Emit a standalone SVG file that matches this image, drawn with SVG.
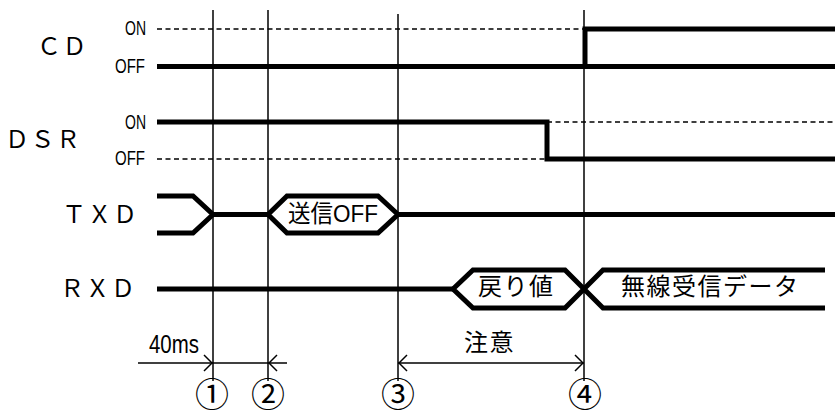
<svg xmlns="http://www.w3.org/2000/svg" width="835" height="410" viewBox="0 0 835 410">
<style>
.thick{fill:none;stroke:#000;stroke-width:5;stroke-linejoin:miter;stroke-linecap:butt}
.thin{fill:none;stroke:#000;stroke-width:1.5}
.dot{fill:none;stroke:#000;stroke-width:1.5;stroke-dasharray:5 3.5}
.lbl{font-family:"Noto Sans CJK JP",sans-serif;font-size:24px;letter-spacing:1.5px;fill:#000}
.lvl{font-family:"Liberation Sans",sans-serif;font-size:20px;fill:#000}
.jp{font-family:"Liberation Sans","Noto Sans CJK JP",sans-serif;font-size:24px;fill:#000}
.num{font-family:"Noto Sans CJK JP",sans-serif;font-size:34px;fill:#000;text-anchor:middle}
</style>
<defs>
<marker id="arr" viewBox="0 0 10 20" refX="10" refY="10" markerWidth="10" markerHeight="20" markerUnits="userSpaceOnUse" orient="auto">
<polyline points="1,2 9,10 1,18" fill="none" stroke="#000" stroke-width="1.5"/>
</marker>
</defs>

<g id="timelines">
<line class="thin" x1="213" y1="10" x2="213" y2="381"/>
<line class="thin" x1="268" y1="10" x2="268" y2="381"/>
<line class="thin" x1="398" y1="14" x2="398" y2="381"/>
<line class="thin" x1="584" y1="10" x2="584" y2="381"/>
</g>

<g id="cd">
<text class="lbl" x="37" y="55">ＣＤ</text>
<text class="lvl" x="125" y="35" textLength="21" lengthAdjust="spacingAndGlyphs">ON</text>
<text class="lvl" x="115" y="72.5" textLength="30" lengthAdjust="spacingAndGlyphs">OFF</text>
<line class="dot" x1="157" y1="29" x2="584" y2="29"/>
<line class="thick" x1="157" y1="66.5" x2="835" y2="66.5"/>
<polyline class="thick" points="585,66.5 585,29 835,29"/>
</g>

<g id="dsr">
<text class="lbl" x="5" y="148">ＤＳＲ</text>
<text class="lvl" x="125" y="128.5" textLength="21" lengthAdjust="spacingAndGlyphs">ON</text>
<text class="lvl" x="115" y="164.5" textLength="30" lengthAdjust="spacingAndGlyphs">OFF</text>
<polyline class="thick" points="157,122 547,122 547,159 835,159"/>
<line class="dot" x1="157" y1="159" x2="547" y2="159"/>
<line class="dot" x1="547" y1="122" x2="835" y2="122"/>
</g>

<g id="txd">
<text class="lbl" x="62" y="223">ＴＸＤ</text>
<polyline class="thick" points="157,196 193,196 213,214.5 193,233 157,233"/>
<line class="thick" x1="213" y1="214.5" x2="268" y2="214.5"/>
<polygon class="thick" points="268,214.5 287,196 378,196 398,214.5 378,233 287,233"/>
<line class="thick" x1="398" y1="214.5" x2="835" y2="214.5"/>
<text class="jp" x="288" y="221.5" textLength="90" lengthAdjust="spacingAndGlyphs">送信OFF</text>
</g>

<g id="rxd">
<text class="lbl" x="60" y="297">ＲＸＤ</text>
<line class="thick" x1="157" y1="289" x2="453" y2="289"/>
<polygon class="thick" points="453,289 473,270 565,270 584,289 565,308 473,308"/>
<polyline class="thick" points="825,270 603,270 584,289 603,308 825,308"/>
<text class="lbl" x="478" y="295" letter-spacing="1">戻り値</text>
<text class="lbl" x="621" y="295">無線受信データ</text>
</g>

<g id="connectors">
<line class="thin" x1="138" y1="363" x2="213" y2="363" marker-end="url(#arr)"/>
<line class="thin" x1="213" y1="363" x2="268" y2="363"/>
<line class="thin" x1="287" y1="363" x2="268" y2="363" marker-end="url(#arr)"/>
<line class="thin" x1="491" y1="363" x2="398" y2="363" marker-end="url(#arr)"/>
<line class="thin" x1="491" y1="363" x2="584" y2="363" marker-end="url(#arr)"/>
</g>

<g id="annotations">
<text class="lvl" x="149" y="353" style="font-size:25px" textLength="50" lengthAdjust="spacingAndGlyphs">40ms</text>
<text class="lbl" x="464" y="351" letter-spacing="2">注意</text>
<text class="num" x="212" y="407">①</text>
<text class="num" x="268" y="407">②</text>
<text class="num" x="398" y="407">③</text>
<text class="num" x="585" y="407">④</text>
</g>
</svg>
